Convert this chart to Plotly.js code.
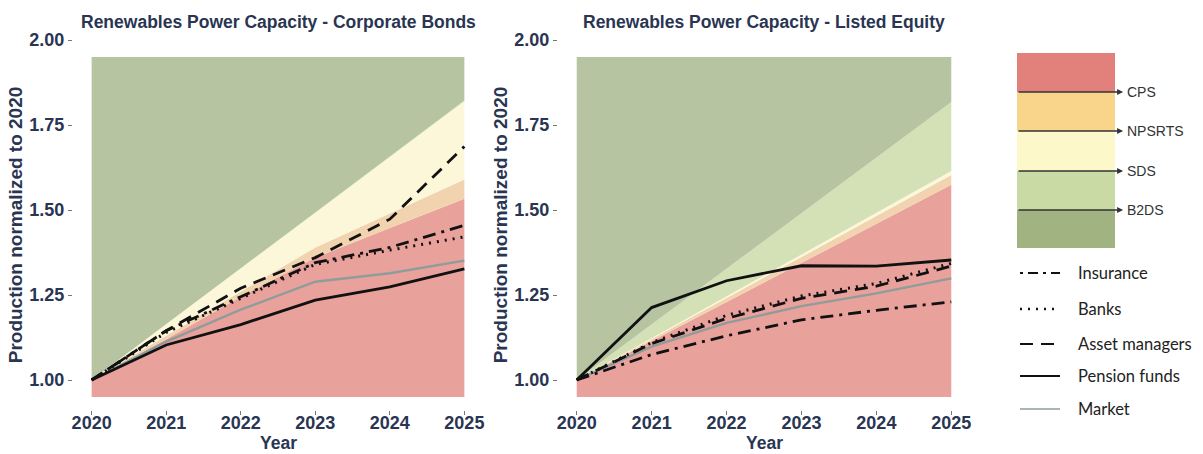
<!DOCTYPE html>
<html>
<head>
<meta charset="utf-8">
<script src="https://cdn.plot.ly/plotly-3.0.1.min.js"></script>
<style>html,body{margin:0;padding:0;background:#fff;}#chart{width:1203px;height:454px;}</style>
</head>
<body>
<div id="chart"></div>
<script>
// ---------- data ----------
const years = [2020, 2021, 2022, 2023, 2024, 2025];
const yTicks = [1.00, 1.25, 1.50, 1.75, 2.00];
const panelTitles = ['Renewables Power Capacity - Corporate Bonds', 'Renewables Power Capacity - Listed Equity'];
const scenarioLabels = ['CPS', 'NPSRTS', 'SDS', 'B2DS'];
const seriesNames = ['Insurance', 'Banks', 'Asset managers', 'Pension funds', 'Market'];
const shadeFloor = 0.95;
const shadeCeiling = 1.95;

// Corporate Bonds: scenario boundaries
const cpsCB  = [1.00, 1.120, 1.245, 1.360, 1.447, 1.533];
const npsCB  = [1.00, 1.130, 1.260, 1.390, 1.490, 1.590];
const sdsCB  = [1.00, 1.164, 1.328, 1.492, 1.656, 1.820];
const b2dsCB = [1.00, 1.165, 1.329, 1.493, 1.657, 1.822];
// Corporate Bonds: investor series
const insCB   = [1.00, 1.145, 1.245, 1.345, 1.390, 1.455];
const banksCB = [1.00, 1.140, 1.240, 1.340, 1.382, 1.421];
const amCB    = [1.00, 1.145, 1.270, 1.360, 1.473, 1.687];
const pfCB    = [1.00, 1.103, 1.163, 1.235, 1.274, 1.327];
const mktCB   = [1.00, 1.113, 1.207, 1.289, 1.314, 1.351];

// Listed Equity: scenario boundaries
const cpsLE  = [1.00, 1.115, 1.230, 1.344, 1.459, 1.574];
const npsLE  = [1.00, 1.121, 1.242, 1.363, 1.484, 1.603];
const sdsLE  = [1.00, 1.123, 1.246, 1.369, 1.492, 1.615];
const b2dsLE = [1.00, 1.164, 1.327, 1.491, 1.654, 1.818];
// Listed Equity: investor series
const insLE   = [1.00, 1.075, 1.130, 1.177, 1.205, 1.230];
const banksLE = [1.00, 1.110, 1.190, 1.247, 1.284, 1.343];
const amLE    = [1.00, 1.107, 1.181, 1.240, 1.276, 1.335];
const pfLE    = [1.00, 1.213, 1.292, 1.336, 1.335, 1.353];
const mktLE   = [1.00, 1.098, 1.168, 1.217, 1.255, 1.299];

// ---------- styles ----------
const W = 1203, H = 454;
const px = v => v / W;
const py = v => 1 - v / H;
const bandFill = ['#E9A19C', '#F2D3AF', '#FBF7D8', '#D4E0B6', '#B6C4A1'];
const keyFill  = ['#E2807C', '#F8D58A', '#FDF8C9', '#CADAA4', '#A0B380'];
const lineStyles = [
  {color: '#111', width: 2.8, dash: '13px,6px,3px,6px'},
  {color: '#111', width: 3.0, dash: '2px,6px'},
  {color: '#111', width: 2.8, dash: '13px,8px'},
  {color: '#111', width: 2.8, dash: 'solid'},
  {color: '#8F9C9A', width: 2.3, dash: 'solid'}
];
const navy = '#293552';
const tickFont = {family: 'Liberation Sans, Arial, sans-serif', size: 18, color: navy, weight: 700};
const axisTitleFont = {family: 'Liberation Sans, Arial, sans-serif', size: 19, color: navy, weight: 700};

const panels = [
  {xa: 'x', ya: 'y', bounds: [cpsCB, npsCB, sdsCB, b2dsCB], series: [insCB, banksCB, amCB, pfCB, mktCB]},
  {xa: 'x2', ya: 'y2', bounds: [cpsLE, npsLE, sdsLE, b2dsLE], series: [insLE, banksLE, amLE, pfLE, mktLE]}
];

const traces = [];
panels.forEach(p => {
  const floor = years.map(() => shadeFloor);
  const ceil = years.map(() => shadeCeiling);
  traces.push({x: years, y: floor, xaxis: p.xa, yaxis: p.ya, mode: 'lines', line: {width: 0}, hoverinfo: 'skip', showlegend: false});
  p.bounds.forEach((b, i) => {
    traces.push({x: years, y: b, xaxis: p.xa, yaxis: p.ya, mode: 'lines', line: {width: 0}, fill: 'tonexty', fillcolor: bandFill[i], name: scenarioLabels[i], showlegend: false});
  });
  traces.push({x: years, y: ceil, xaxis: p.xa, yaxis: p.ya, mode: 'lines', line: {width: 0}, fill: 'tonexty', fillcolor: bandFill[4], showlegend: false, hoverinfo: 'skip'});
});
panels.forEach(p => {
  [4, 3, 2, 1, 0].forEach(i => {
    traces.push({x: years, y: p.series[i], xaxis: p.xa, yaxis: p.ya, mode: 'lines', name: seriesNames[i], line: lineStyles[i], showlegend: false});
  });
});

// ---------- axes ----------
const xDomains = [[px(73), px(483)], [px(558), px(970)]];
const yDomain = [py(410), py(40)];
function xAxis(dom) {
  return {domain: dom, range: [2019.75, 2025.25], tickvals: years, ticktext: years.map(String),
    showgrid: false, zeroline: false, showline: false, ticks: 'outside', ticklen: 4, tickcolor: '#777', tickwidth: 1,
    tickfont: tickFont, ticklabelstandoff: -8, automargin: false, fixedrange: true};
}
function yAxis(anchor) {
  return {domain: yDomain, range: [0.9118, 2.0], tickvals: yTicks, tickformat: '.2f', anchor: anchor,
    showgrid: false, zeroline: false, showline: false, ticks: 'outside', ticklen: 4, tickcolor: '#777', tickwidth: 1,
    tickfont: tickFont, title: {text: 'Production normalized to 2020', font: axisTitleFont, standoff: 1}, automargin: false, fixedrange: true};
}

// ---------- legend (drawn as key) ----------
const shapes = [];
const annotations = [];
const keyTops = [53, 92, 131, 171, 210, 248];
for (let i = 0; i < 5; i++) {
  shapes.push({type: 'rect', xref: 'paper', yref: 'paper', x0: px(1017), x1: px(1115), y0: py(keyTops[i + 1]), y1: py(keyTops[i]), fillcolor: keyFill[i], line: {width: 0}, layer: 'above'});
}
scenarioLabels.forEach((lab, i) => {
  const yy = keyTops[i + 1];
  annotations.push({xref: 'paper', yref: 'paper', x: px(1123), y: py(yy), ax: -106, ay: 0, text: '', showarrow: true, arrowhead: 2, arrowsize: 0.9, arrowwidth: 1.3, arrowcolor: '#333'});
  annotations.push({xref: 'paper', yref: 'paper', x: px(1125), y: py(yy), xanchor: 'left', yanchor: 'middle', text: lab, showarrow: false, font: {family: 'Liberation Sans, Arial, sans-serif', size: 14, color: '#333'}});
});
const legendY = [273, 309, 344, 376, 409];
seriesNames.forEach((nm, i) => {
  const st = lineStyles[i];
  shapes.push({type: 'line', xref: 'paper', yref: 'paper', x0: px(1020), x1: px(1060), y0: py(legendY[i]), y1: py(legendY[i]), line: {color: st.color, width: st.width - 0.6, dash: i === 0 ? '3px,5px,10px,5px' : st.dash}});
  annotations.push({xref: 'paper', yref: 'paper', x: px(1076), y: py(legendY[i]), xanchor: 'left', yanchor: 'middle', text: nm, showarrow: false, font: {family: 'Lato, Open Sans, sans-serif', size: 16.5, color: '#222'}});
});
panelTitles.forEach((t, i) => {
  const cx = (xDomains[i][0] + xDomains[i][1]) / 2;
  annotations.push({xref: 'paper', yref: 'paper', x: cx, y: py(22), xanchor: 'center', yanchor: 'middle', text: t, showarrow: false, font: {family: 'Liberation Sans, Arial, sans-serif', size: 17.5, color: navy, weight: 700}});
  annotations.push({xref: 'paper', yref: 'paper', x: cx, y: py(443), xanchor: 'center', yanchor: 'middle', text: 'Year', showarrow: false, font: {family: 'Liberation Sans, Arial, sans-serif', size: 17.5, color: navy, weight: 700}});
});

const layout = {
  width: W, height: H, margin: {l: 0, r: 0, t: 0, b: 0}, paper_bgcolor: '#fff', plot_bgcolor: '#fff', showlegend: false,
  xaxis: xAxis(xDomains[0]), xaxis2: xAxis(xDomains[1]),
  yaxis: yAxis('x'), yaxis2: yAxis('x2'),
  shapes: shapes, annotations: annotations
};
Plotly.newPlot('chart', traces, layout, {staticPlot: true, displayModeBar: false});
</script>
</body>
</html>
